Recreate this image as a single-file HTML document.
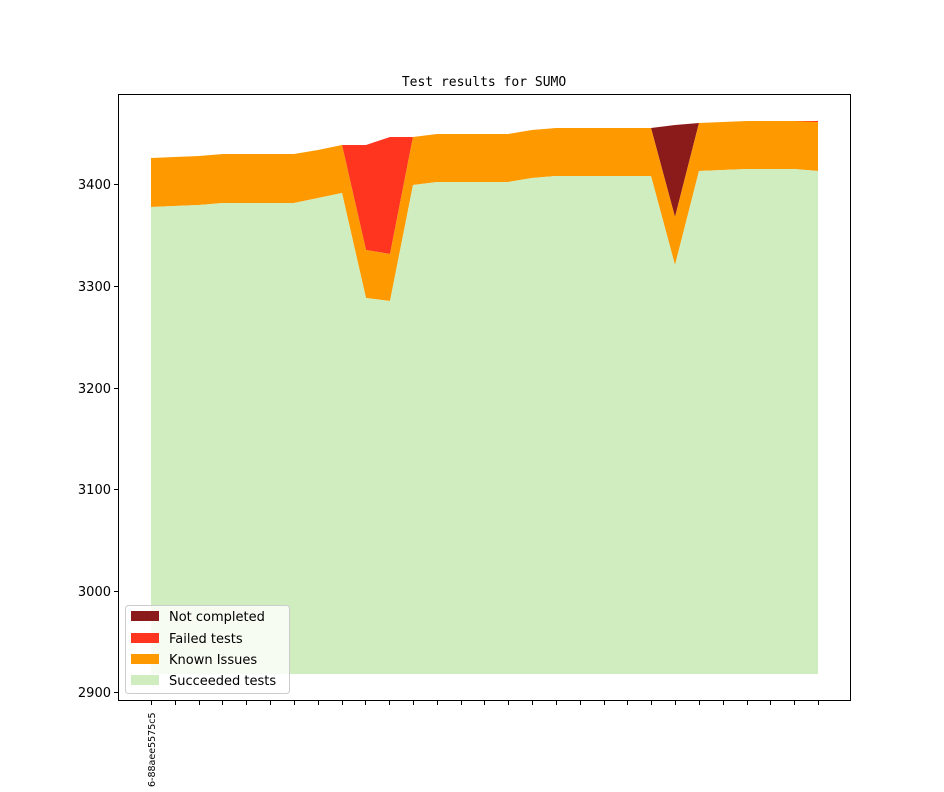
<!DOCTYPE html>
<html><head><style>body{margin:0;background:#fff}</style></head><body>
<svg width="944" height="787" xmlns="http://www.w3.org/2000/svg" font-family="DejaVu Sans, Liberation Sans, sans-serif">
<rect width="944" height="787" fill="#fff"/>
<polygon fill="#8b1a1a" points="651,128 675,217 699,123 675,125"/>
<polygon fill="#ff3520" points="342,145 366,250 390,254 413,137 390,137 366,145"/>
<polygon fill="#ff3520" points="792,121 818,121 818,125"/>
<polygon fill="#fe9a00" points="151,158 175,157 199,156 223,154 247,154 270,154 294,154 318,150 342,145 366,250 390,254 413,137 437,134 461,134 485,134 508,134 532,130 556,128 580,128 604,128 628,128 651,128 675,217 699,123 723,122 747,121 770,121 794,121 818,122 818,171 794,169 770,169 747,169 723,170 699,171 675,265 651,176 628,176 604,176 580,176 556,176 532,178 508,182 485,182 461,182 437,182 413,185 390,301 366,298 342,193 318,198 294,203 270,203 247,203 223,203 199,205 175,206 151,207"/>
<polygon fill="#cfedbf" points="151,207 175,206 199,205 223,203 247,203 270,203 294,203 318,198 342,193 366,298 390,301 413,185 437,182 461,182 485,182 508,182 532,178 556,176 580,176 604,176 628,176 651,176 675,265 699,171 723,170 747,169 770,169 794,169 818,171 818,674 151,674"/>
<rect x="118.5" y="94.5" width="732" height="606" fill="none" stroke="#000" stroke-width="1"/>
<g font-size="13" text-anchor="end" fill="#000">
<g stroke="#000"><line x1="114" x2="118" y1="184.5" y2="184.5"/><line x1="114" x2="118" y1="286.5" y2="286.5"/><line x1="114" x2="118" y1="388.5" y2="388.5"/><line x1="114" x2="118" y1="489.5" y2="489.5"/><line x1="114" x2="118" y1="591.5" y2="591.5"/><line x1="114" x2="118" y1="692.5" y2="692.5"/></g>
<text x="111" y="189">3400</text><text x="111" y="291">3300</text><text x="111" y="393">3200</text><text x="111" y="494">3100</text><text x="111" y="596">3000</text><text x="111" y="697">2900</text>
</g>
<g stroke="#000" id="xt"></g>
<text transform="translate(155,787) rotate(-90)" font-size="9.5" fill="#000">6-88aee5575c5</text>
<text x="484" y="86" text-anchor="middle" font-size="13" font-family="DejaVu Sans Mono, Liberation Mono, monospace">Test results for SUMO</text>
<rect x="125.5" y="605.5" width="164" height="88" rx="3" fill="#fff" fill-opacity="0.8" stroke="#ccc"/>
<rect x="131" y="611" width="28" height="10" fill="#8b1a1a"/>
<rect x="131" y="633" width="28" height="10" fill="#ff3520"/>
<rect x="131" y="654" width="28" height="10" fill="#fe9a00"/>
<rect x="131" y="675" width="28" height="10" fill="#cfedbf"/>
<g font-size="13" fill="#000"><text x="169" y="621">Not completed</text><text x="169" y="643">Failed tests</text><text x="169" y="664">Known Issues</text><text x="169" y="685">Succeeded tests</text></g>
<script>
var g=document.getElementById('xt');for(var i=0;i<29;i++){var x=Math.round(151+i*23.82)+0.5;var l=document.createElementNS('http://www.w3.org/2000/svg','line');l.setAttribute('x1',x);l.setAttribute('x2',x);l.setAttribute('y1',700);l.setAttribute('y2',705);g.appendChild(l);}
</script>
</svg>
</body></html>
